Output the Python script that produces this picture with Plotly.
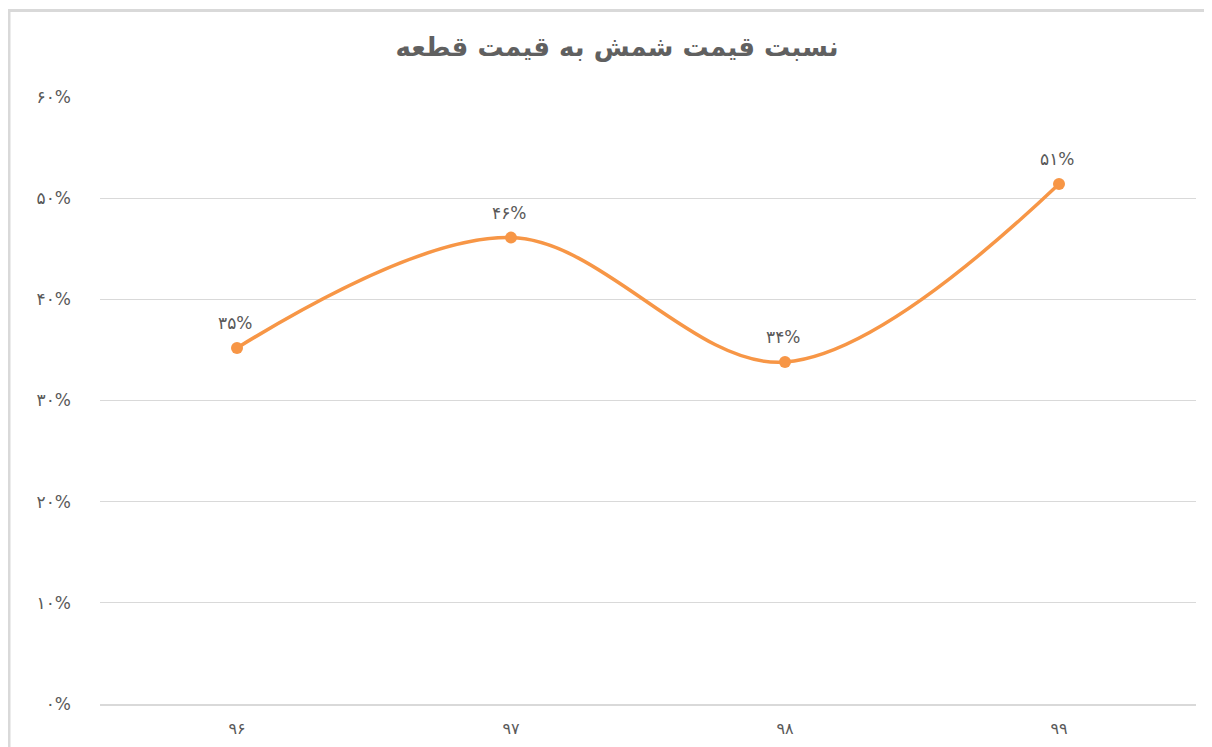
import plotly.graph_objects as go

categories = ["۹۶", "۹۷", "۹۸", "۹۹"]
values = [0.352, 0.461, 0.338, 0.514]
value_labels = ["۳۵%", "۴۶%", "۳۴%", "۵۱%"]
y_tick_vals = [0, 0.1, 0.2, 0.3, 0.4, 0.5, 0.6]
y_tick_text = ["۰%", "۱۰%", "۲۰%", "۳۰%", "۴۰%", "۵۰%", "۶۰%"]
title_text = "نسبت قیمت شمش به قیمت قطعه"

FONT = "Tahoma, DejaVu Sans, sans-serif"
GRAY = "#595959"
ORANGE = "#F79646"

W, H = 1212, 747
L, T = 92, 89
PW, PH = 1096, 607

fig = go.Figure()
fig.add_trace(go.Scatter(
    x=categories, y=values,
    mode="lines+markers",
    line=dict(color=ORANGE, width=3.5, shape="spline", smoothing=1.0),
    marker=dict(color=ORANGE, size=12),
    cliponaxis=False,
    showlegend=False,
))

annotations = [
    dict(x=c, y=v, text=t, showarrow=False, xref="x", yref="y",
         yshift=25, xshift=-2,
         font=dict(family=FONT, size=17, color=GRAY))
    for c, v, t in zip(categories, values, value_labels)
]

fig.update_layout(
    width=W, height=H,
    margin=dict(l=L, r=W - L - PW, t=T, b=H - T - PH),
    paper_bgcolor="white", plot_bgcolor="white",
    title=dict(text="<b>" + title_text + "</b>", x=0.5025, xanchor="center",
               y=0.948, yanchor="middle",
               font=dict(family=FONT, size=26, color="#606060")),
    font=dict(family=FONT, color=GRAY),
    annotations=annotations,
    xaxis=dict(type="category", range=[-0.5, 3.5], showgrid=False,
               showline=True, linecolor="#d9d9d9", linewidth=1.5,
               tickfont=dict(family=FONT, size=16, color=GRAY),
               ticks="", ticklabelstandoff=9, zeroline=False),
    yaxis=dict(range=[0, 0.6], tickvals=y_tick_vals, ticktext=y_tick_text,
               showgrid=True, gridcolor="#d9d9d9", gridwidth=1,
               showline=False, zeroline=False,
               tickfont=dict(family=FONT, size=17, color=GRAY),
               ticks="", ticklabelstandoff=28),
    shapes=[
        dict(type="line", xref="paper", yref="paper",
             x0=(0 - L) / PW, x1=(W - L) / PW,
             y0=(T + PH - 2.5) / PH, y1=(T + PH - 2.5) / PH,
             line=dict(color="#d9d9d9", width=3)),
        dict(type="line", xref="paper", yref="paper",
             x0=(1 - L) / PW, x1=(1 - L) / PW,
             y0=(T + PH - 1) / PH, y1=(T + PH - H) / PH,
             line=dict(color="#d9d9d9", width=3)),
    ],
)

fig.write_html("out.html")
